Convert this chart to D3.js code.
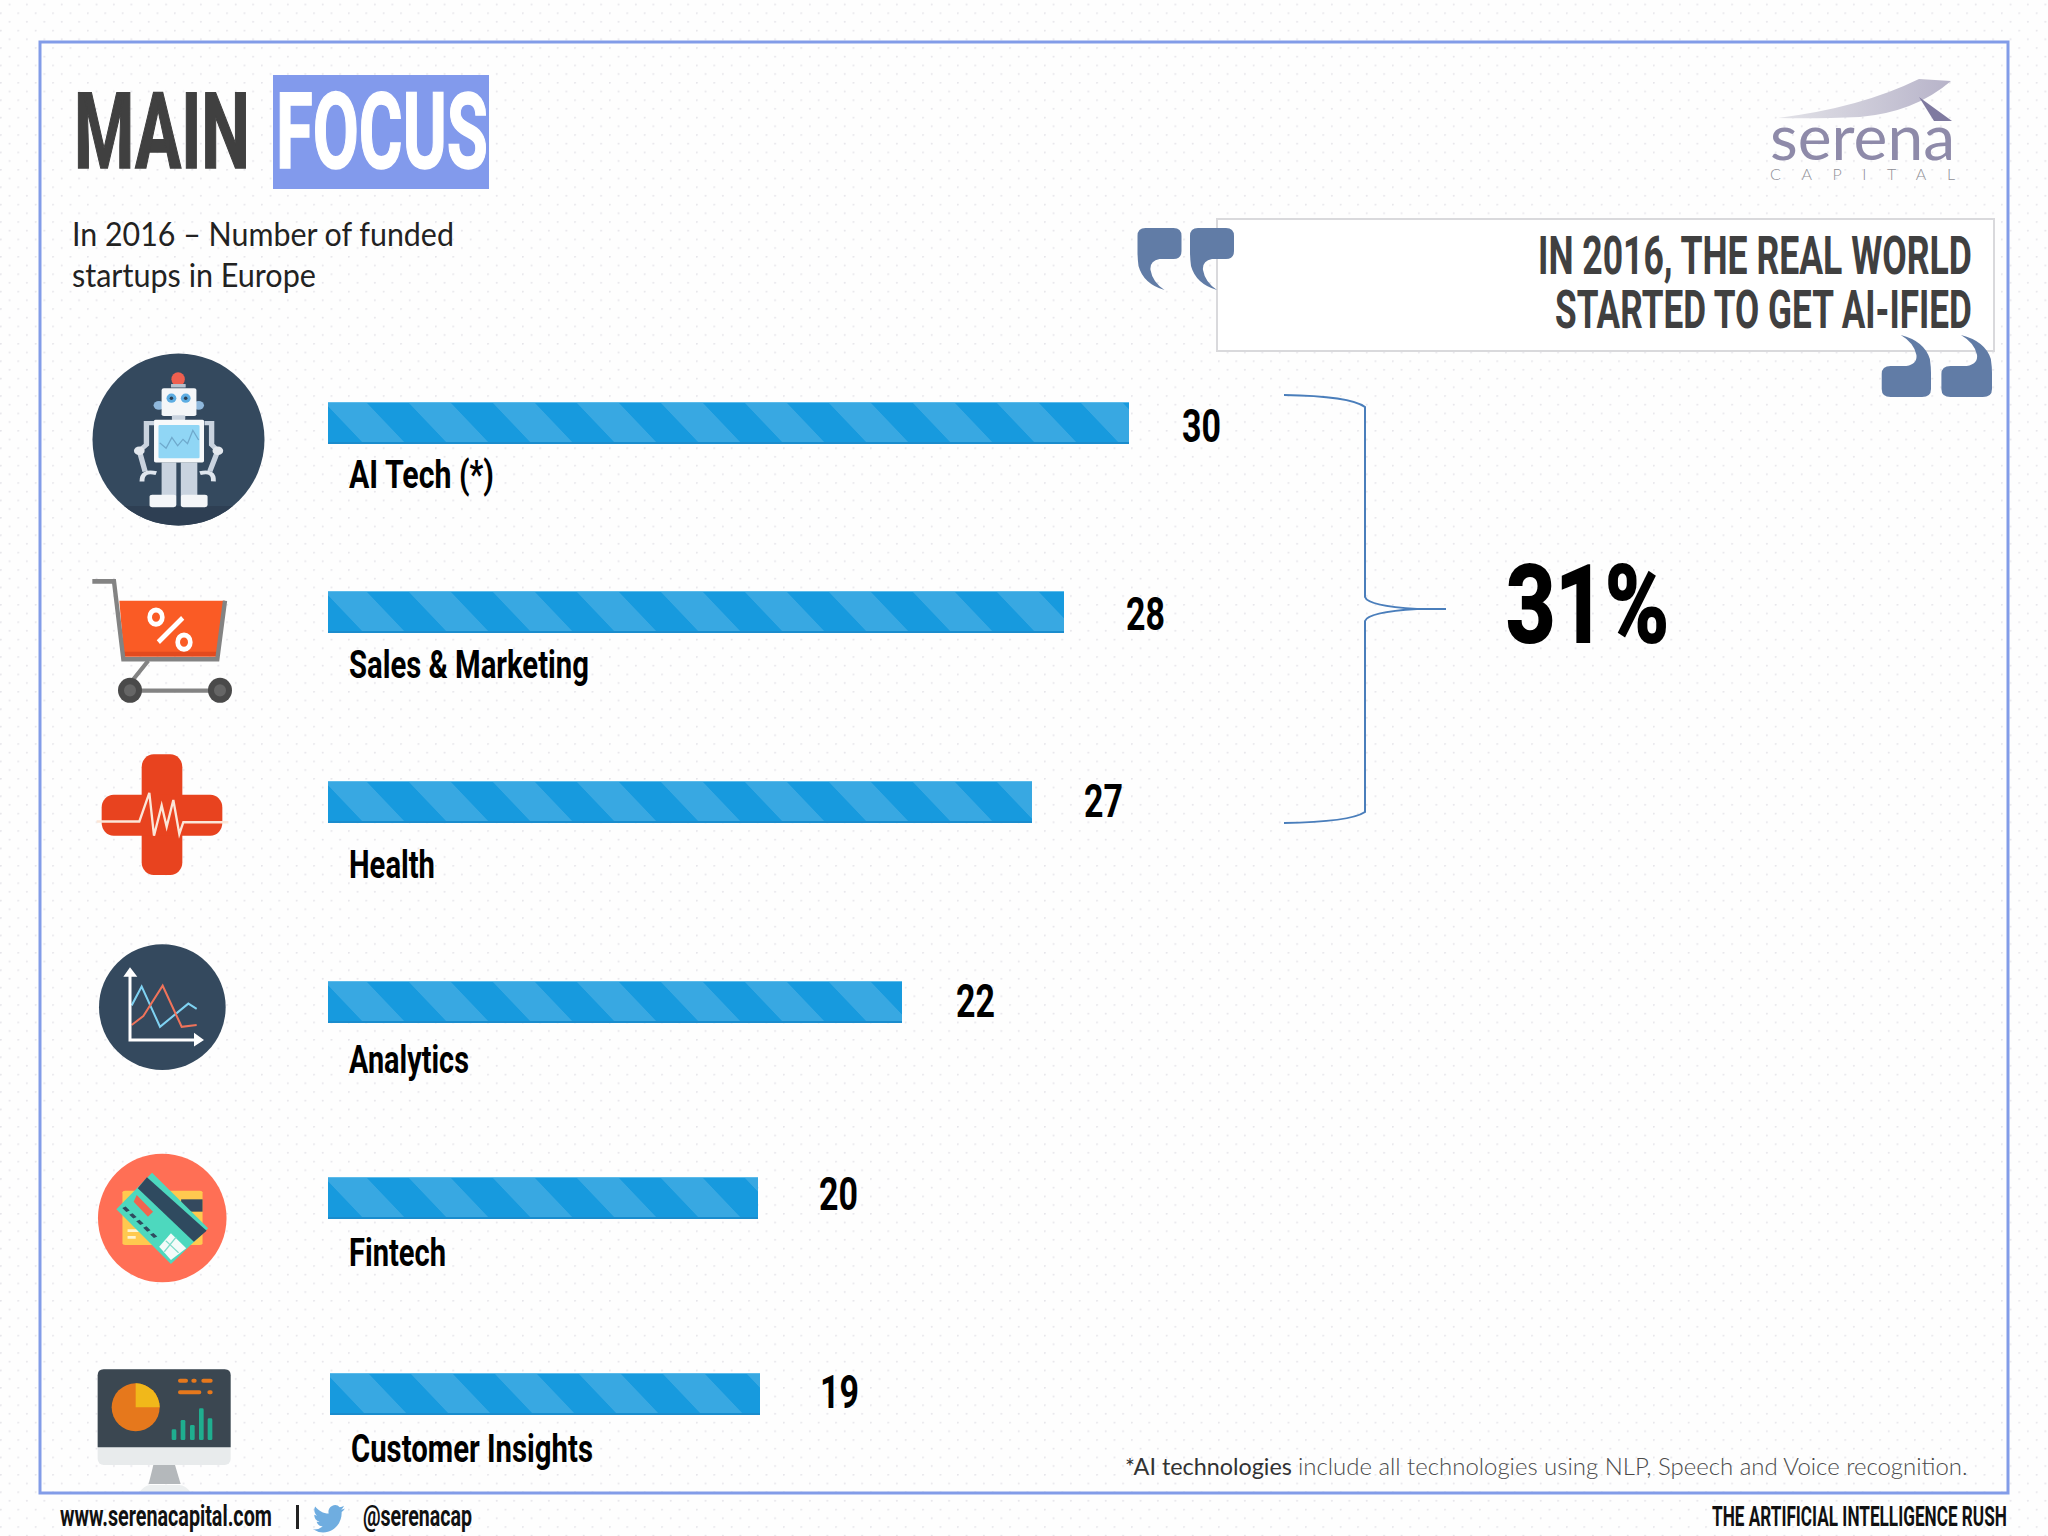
<!DOCTYPE html>
<html>
<head>
<meta charset="utf-8">
<script src="https://cdn.jsdelivr.net/npm/d3@7"></script>
<style>
  html, body { margin: 0; padding: 0; background: #fff; }
  svg { display: block; }
  .narrow { font-family: "Liberation Sans Narrow", "Roboto", sans-serif; font-weight: 700; }
  .lato { font-family: "Lato", sans-serif; }
  .light { font-weight: 300; }
</style>
</head>
<body>
<div class="main"></div>
<script>
// Chart data
const categories = ["AI Tech (*)", "Sales & Marketing", "Health", "Analytics", "Fintech", "Customer Insights"];
const startups = [30, 28, 27, 22, 20, 19];
const shareOfTotal = ["31%"];

const pageW = 2048, pageH = 1536;
const barH = 42;

const svg = d3.select(".main").append("svg")
    .attr("width", pageW)
    .attr("height", pageH)
    .attr("viewBox", "0 0 " + pageW + " " + pageH);

const defs = svg.append("defs");

// dotted paper
const dots = defs.append("pattern")
    .attr("id", "paper")
    .attr("patternUnits", "userSpaceOnUse")
    .attr("x", 0).attr("y", 12.4)
    .attr("width", 17.4).attr("height", 17.4);
dots.append("circle").attr("cx", 0.8).attr("cy", 0.8).attr("r", 1).attr("fill", "#e6e5ea");
dots.append("circle").attr("cx", 9.5).attr("cy", 9.5).attr("r", 1).attr("fill", "#e6e5ea");

// bar stripes, the tile is sheared so that it lines up with each bar's own origin
const stripes = defs.append("pattern")
    .attr("id", "stripes")
    .attr("patternUnits", "userSpaceOnUse")
    .attr("width", 84).attr("height", barH)
    .attr("patternTransform", "skewX(43.6)");
stripes.append("rect").attr("width", 84).attr("height", barH).attr("fill", "#38a8e2");
stripes.append("rect").attr("x", 38).attr("width", 42).attr("height", barH).attr("fill", "#179ade");

const swoosh = defs.append("linearGradient").attr("id", "swoosh");
swoosh.append("stop").attr("offset", 0).attr("stop-color", "#e3e3e8");
swoosh.append("stop").attr("offset", 1).attr("stop-color", "#b7b3c9");

defs.append("clipPath").attr("id", "robotClip").append("circle")
    .attr("cx", 178.5).attr("cy", 439.5).attr("r", 86);

svg.append("rect").attr("width", pageW).attr("height", pageH).attr("fill", "#fefefe");
svg.append("rect").attr("width", pageW).attr("height", pageH).attr("fill", "url(#paper)");

// squeeze a text sideways to the width it has in the picture
function fit(node, x, y, w) {
    const natural = node.getComputedTextLength();
    d3.select(node).attr("transform", "translate(" + x + "," + y + ") scale(" + (w / natural) + ",1)");
}
function put(parent, str, x, y, size, width, fill, cls) {
    const t = parent.append("text")
        .attr("class", cls || "narrow")
        .attr("font-size", size)
        .attr("fill", fill)
        .text(str);
    fit(t.node(), x, y, width);
    return t;
}

// Title
svg.append("rect").attr("x", 273).attr("y", 75).attr("width", 216).attr("height", 114).attr("fill", "#829aec");
put(svg, "MAIN", 74, 168, 106, 176, "#404040").attr("stroke", "#404040").attr("stroke-width", 1.5);
put(svg, "FOCUS", 276, 168, 106, 212, "#ffffff").attr("stroke", "#ffffff").attr("stroke-width", 1.5);
put(svg, "In 2016 – Number of funded", 72, 246, 33, 382, "#222", "lato");
put(svg, "startups in Europe", 72, 287, 33, 244, "#222", "lato");

// Logo
svg.append("path")
    .attr("d", "M1777,118 Q1860,108 1919,79 L1951,81 Q1915,112 1860,117 Q1815,119 1777,118Z")
    .attr("fill", "url(#swoosh)");
svg.append("path").attr("d", "M1919,97 L1952,121 L1934,121Z").attr("fill", "#7f7aa0");
put(svg, "serena", 1770, 160, 62, 185, "#8e8aa9", "lato");
const capital = svg.append("text")
    .attr("class", "lato light")
    .attr("x", 1770).attr("y", 180)
    .attr("font-size", 16)
    .attr("fill", "#8f8f96")
    .text("CAPITAL");
capital.attr("letter-spacing", (185 - capital.node().getComputedTextLength()) / 6);

// Quote box
svg.append("rect").attr("x", 1217).attr("y", 219).attr("width", 777).attr("height", 132)
    .attr("fill", "#fff").attr("stroke", "#d9d9dc").attr("stroke-width", 2);

const quoteMark = "M8,0 H36 Q44,0 44,8 V23 Q44,31 36,31 H22 Q12,33 13,42 Q15,54 27,62 Q6,56 1,38 Q0,30 0,24 V8 Q0,0 8,0Z";
[[1137.5, 228, 0, 1], [1190, 228, 0, 1], [1931, 397, 180, 1.12], [1992, 397, 180, 1.15]].forEach(function(q) {
    svg.append("path").attr("d", quoteMark)
        .attr("transform", "translate(" + q[0] + "," + q[1] + ") rotate(" + q[2] + ") scale(" + q[3] + ",1)")
        .attr("fill", "#617ca6");
});
put(svg, "IN 2016, THE REAL WORLD", 1538, 274, 53, 434, "#404040");
put(svg, "STARTED TO GET AI-IFIED", 1555, 328, 53, 417, "#404040");

// Scales. The bars in the picture are not proportional, so x is piecewise.
const x = d3.scaleLinear()
    .domain([19, 20, 22, 27, 28, 30])
    .range([430, 430, 574, 704, 736, 801]);
const y = d3.scaleOrdinal().domain(categories).range([402, 591, 781, 981, 1177, 1373]);
const x0 = d3.scaleOrdinal().domain(categories).range([328, 328, 328, 328, 328, 330]);
const labelY = d3.scaleOrdinal().domain(categories).range([488, 678, 878, 1073, 1266, 1462]);
const labelW = d3.scaleOrdinal().domain(categories).range([145, 240, 86, 120, 97, 242]);
const valueX = d3.scaleOrdinal().domain(categories).range([1182, 1126, 1084, 956, 819, 820]);
const valueY = d3.scaleOrdinal().domain(categories).range([442, 630, 817, 1017, 1210, 1408]);

const rows = categories.map(function(c, i) { return { category: c, value: startups[i] }; });

const bars = svg.selectAll(".row").data(rows).enter().append("g")
    .attr("class", "row")
    .attr("transform", function(d) { return "translate(" + x0(d.category) + "," + y(d.category) + ")"; });

bars.append("rect")
    .attr("class", "bar")
    .attr("width", function(d) { return x(d.value); })
    .attr("height", barH)
    .attr("fill", "url(#stripes)");
bars.append("rect")
    .attr("y", barH - 2)
    .attr("width", function(d) { return x(d.value); })
    .attr("height", 2)
    .attr("fill", "#1a8ccd");
bars.append("rect")
    .attr("width", function(d) { return x(d.value); })
    .attr("height", 1)
    .attr("fill", "#5dbbea");

svg.selectAll(".cat").data(rows).enter().append("text")
    .attr("class", "cat narrow")
    .attr("font-size", 39)
    .attr("fill", "#000")
    .text(function(d) { return d.category; })
    .each(function(d) { fit(this, x0(d.category) + 21, labelY(d.category), labelW(d.category)); });

svg.selectAll(".val").data(rows).enter().append("text")
    .attr("class", "val narrow")
    .attr("font-size", 46)
    .attr("fill", "#000")
    .text(function(d) { return d.value; })
    .each(function(d) { fit(this, valueX(d.category), valueY(d.category), 39); });

// Brace over the top three
svg.append("path")
    .attr("d", "M1284,395 Q1350,396 1365,407 V597 Q1368,606 1417,609 H1446 H1417 Q1368,612 1365,621 V812 Q1350,822 1284,823")
    .attr("fill", "none").attr("stroke", "#4a7ebb").attr("stroke-width", 2);
put(svg, shareOfTotal[0], 1506, 642, 107, 163, "#000").attr("stroke", "#000").attr("stroke-width", 2);

// Icons. Each is drawn in the pixel grid it was measured on, then scaled down.
const robotBg = svg.append("g");
robotBg.append("circle").attr("cx", 178.5).attr("cy", 439.5).attr("r", 86).attr("fill", "#34495e");
robotBg.append("rect").attr("x", 90).attr("y", 506).attr("width", 180).attr("height", 25)
    .attr("fill", "#2e3f53").attr("clip-path", "url(#robotClip)");

const robot = svg.append("g").attr("transform", "scale(" + (1 / 2.24) + "," + (1 / 2.8) + ")");
function robotRect(x, y, w, h, fill, r) {
    robot.append("rect").attr("x", x).attr("y", y).attr("width", w).attr("height", h)
        .attr("rx", r || 3).attr("fill", fill);
}
robot.append("path")
    .attr("d", "M345,1185 H328 V1245 L312,1262 L325,1320 M458,1185 H474 V1245 L488,1262 L470,1320")
    .attr("fill", "none").attr("stroke", "#c9d3df").attr("stroke-width", 12);
robot.append("path")
    .attr("d", "M318,1348 Q318,1315 350,1325 M350,1325 M478,1348 Q480,1315 448,1325")
    .attr("fill", "none").attr("stroke", "#dfe6ee").attr("stroke-width", 11);
robot.append("circle").attr("cx", 312).attr("cy", 1262).attr("r", 12).attr("fill", "#e3e8ee");
robot.append("circle").attr("cx", 488).attr("cy", 1262).attr("r", 12).attr("fill", "#e3e8ee");
robotRect(362, 1295, 33, 95, "#c9d3df", 1);
robotRect(405, 1295, 37, 95, "#c9d3df", 1);
robotRect(335, 1385, 60, 35, "#f4f6f8", 6);
robotRect(405, 1385, 60, 35, "#f4f6f8", 6);
robot.append("ellipse").attr("cx", 399).attr("cy", 1062).attr("rx", 15).attr("ry", 20).attr("fill", "#ef5f4f");
robotRect(383, 1075, 33, 10, "#b5c0cc", 1);
robot.append("circle").attr("cx", 356).attr("cy", 1135).attr("r", 12).attr("fill", "#8fb8dc");
robot.append("circle").attr("cx", 445).attr("cy", 1135).attr("r", 12).attr("fill", "#8fb8dc");
robotRect(362, 1087, 78, 78, "#f4f6f8", 5);
robot.append("ellipse").attr("cx", 384).attr("cy", 1115).attr("rx", 11).attr("ry", 13).attr("fill", "#5dade2");
robot.append("ellipse").attr("cx", 416).attr("cy", 1115).attr("rx", 11).attr("ry", 13).attr("fill", "#5dade2");
robot.append("ellipse").attr("cx", 384).attr("cy", 1115).attr("rx", 4).attr("ry", 5).attr("fill", "#2c3e50");
robot.append("ellipse").attr("cx", 416).attr("cy", 1115).attr("rx", 4).attr("ry", 5).attr("fill", "#2c3e50");
robotRect(385, 1163, 30, 14, "#c9d3df", 0);
robotRect(345, 1175, 112, 120, "#f7f9fa", 4);
robotRect(355, 1190, 92, 93, "#90d6f5", 0);
robot.append("path")
    .attr("d", "M358,1240 L372,1255 L385,1225 L398,1248 L410,1230 L420,1242 L432,1205 L445,1232")
    .attr("fill", "none").attr("stroke", "#6fa9cc").attr("stroke-width", 3);

const cart = svg.append("g").attr("transform", "translate(60,550) scale(" + (1 / 3) + "," + (1 / 2.8) + ")");
cart.append("path").attr("d", "M178,142 H495 L470,298 H192Z").attr("fill", "#fa5b25");
cart.append("path").attr("d", "M190,285 H473 L470,298 H192Z").attr("fill", "#e34a1e");
cart.append("path").attr("d", "M97,88 H162 L190,306 H472 L495,142")
    .attr("fill", "none").attr("stroke", "#838383").attr("stroke-width", 13);
cart.append("path").attr("d", "M265,310 L215,368 M210,394 H480")
    .attr("fill", "none").attr("stroke", "#838383").attr("stroke-width", 12);
[210, 480].forEach(function(cx) {
    cart.append("ellipse").attr("cx", cx).attr("cy", 393).attr("rx", 36).attr("ry", 35).attr("fill", "#4a4a4a");
    cart.append("ellipse").attr("cx", cx).attr("cy", 393).attr("rx", 18).attr("ry", 17).attr("fill", "#666");
});
cart.append("ellipse").attr("cx", 288).attr("cy", 188).attr("rx", 19).attr("ry", 20)
    .attr("fill", "none").attr("stroke", "#fff").attr("stroke-width", 14);
cart.append("ellipse").attr("cx", 372).attr("cy", 258).attr("rx", 19).attr("ry", 20)
    .attr("fill", "none").attr("stroke", "#fff").attr("stroke-width", 14);
cart.append("path").attr("d", "M368,190 L295,258").attr("stroke", "#fff").attr("stroke-width", 14);

const cross = svg.append("g").attr("transform", "translate(60,550) scale(" + (1 / 3) + "," + (1 / 2.8) + ")");
cross.append("rect").attr("x", 245).attr("y", 572).attr("width", 122).attr("height", 338).attr("rx", 36).attr("fill", "#e8431f");
cross.append("rect").attr("x", 125).attr("y", 685).attr("width", 362).attr("height", 115).attr("rx", 36).attr("fill", "#e8431f");
cross.append("path")
    .attr("d", "M110,760 H238 L268,680 L282,800 L305,715 L320,775 L340,700 L358,795 L370,762 H505")
    .attr("fill", "none").attr("stroke", "#fbe6d8").attr("stroke-width", 7);

const analytics = svg.append("g").attr("transform", "translate(60,550) scale(" + (1 / 3) + "," + (1 / 2.8) + ")");
analytics.append("ellipse").attr("cx", 307).attr("cy", 1280).attr("rx", 190).attr("ry", 176).attr("fill", "#34495e");
analytics.append("path").attr("d", "M215,1275 L245,1222 L300,1335 L385,1270 L410,1285")
    .attr("fill", "none").attr("stroke", "#7fd2f2").attr("stroke-width", 6);
analytics.append("path").attr("d", "M215,1330 L250,1305 L308,1220 L365,1335 L410,1330")
    .attr("fill", "none").attr("stroke", "#f0735a").attr("stroke-width", 6);
analytics.append("path").attr("d", "M210,1185 V1372 H410")
    .attr("fill", "none").attr("stroke", "#fff").attr("stroke-width", 9);
analytics.append("path").attr("d", "M190,1195 L210,1168 L232,1195Z M402,1352 L432,1372 L402,1390Z").attr("fill", "#fff");

const card = svg.append("g").attr("transform", "translate(0,1120) scale(" + (1 / 1.96) + "," + (1 / 3) + ")");
card.append("ellipse").attr("cx", 318).attr("cy", 294).attr("rx", 126).attr("ry", 193).attr("fill", "#ff6f55");
card.append("rect").attr("x", 240).attr("y", 212).attr("width", 157).attr("height", 163).attr("rx", 5).attr("fill", "#ffc94f");
card.append("rect").attr("x", 355).attr("y", 238).attr("width", 42).attr("height", 37).attr("fill", "#34495e");
card.append("path").attr("d", "M250,332 H272 M250,352 H266").attr("stroke", "#fff3cf").attr("stroke-width", 8);
card.append("path").attr("d", "M298,158 L408,325 L335,432 L228,268Z").attr("fill", "#4dd8be");
card.append("path").attr("d", "M288,172 L405,332 L380,365 L270,205Z").attr("fill", "#2f4a5f");
card.append("path").attr("d", "M268,225 L300,275 L290,290 L262,245Z").attr("fill", "#f0654f");
card.append("path").attr("d", "M243,262 L305,352").attr("stroke", "#2f4a5f").attr("stroke-width", 8).attr("stroke-dasharray", "14,10");
card.append("path").attr("d", "M335,340 L365,385 L335,420 L312,380Z").attr("fill", "#f4fbf9");
card.append("path").attr("d", "M325,362 L350,398 M345,352 L322,395").attr("stroke", "#7fdcca").attr("stroke-width", 3);

const monitor = svg.append("g").attr("transform", "translate(90,1360) scale(" + (1 / 3) + ")");
monitor.append("path").attr("d", "M145,400 Q165,375 180,375 H268 Q285,375 305,400Z").attr("fill", "#eceff0");
monitor.append("path").attr("d", "M190,315 H255 L272,372 H176Z").attr("fill", "#b4b8bb");
monitor.append("rect").attr("x", 23).attr("y", 28).attr("width", 399).attr("height", 287).attr("rx", 18).attr("fill", "#e8ebec");
monitor.append("path").attr("d", "M23,262 V46 Q23,28 41,28 H404 Q422,28 422,46 V262Z").attr("fill", "#3b4751");
monitor.append("circle").attr("cx", 137).attr("cy", 142).attr("r", 72).attr("fill", "#e6781c");
monitor.append("path").attr("d", "M137,70 A72,72 0 0 1 209,142 H137Z").attr("fill", "#f1b81a");
[[245, 208], [272, 180], [300, 195], [327, 145], [353, 175]].forEach(function(b) {
    monitor.append("rect").attr("x", b[0]).attr("y", b[1]).attr("width", 14).attr("height", 240 - b[1])
        .attr("rx", 4).attr("fill", "#1fae8f");
});
monitor.append("path").attr("d", "M270,62 H288 M310,62 H314 M340,62 H362 M270,97 H328 M358,97 H362")
    .attr("stroke", "#e6781c").attr("stroke-width", 12).attr("stroke-linecap", "round");

// Frame
svg.append("rect").attr("x", 40).attr("y", 42).attr("width", 1968).attr("height", 1451)
    .attr("fill", "none").attr("stroke", "#829ce8").attr("stroke-width", 3);

// Footnote and footer
put(svg, "*AI technologies", 1125, 1475, 24, 167, "#333", "lato");
put(svg, "include all technologies using NLP, Speech and Voice recognition.", 1298, 1475, 24, 670, "#4a4a4a", "lato light");
put(svg, "www.serenacapital.com", 60, 1526, 30, 212, "#111");
svg.append("rect").attr("x", 296).attr("y", 1505).attr("width", 3).attr("height", 24).attr("fill", "#222");
svg.append("path")
    .attr("d", "M23.953 4.57a10 10 0 01-2.825.775 4.958 4.958 0 002.163-2.723c-.951.555-2.005.959-3.127 1.184a4.92 4.92 0 00-8.384 4.482C7.69 8.095 4.067 6.13 1.64 3.162a4.822 4.822 0 00-.666 2.475c0 1.71.87 3.213 2.188 4.096a4.904 4.904 0 01-2.228-.616v.06a4.923 4.923 0 003.946 4.827 4.996 4.996 0 01-2.212.085 4.936 4.936 0 004.604 3.417 9.867 9.867 0 01-6.102 2.105c-.39 0-.779-.023-1.17-.067a13.995 13.995 0 007.557 2.209c9.053 0 13.998-7.496 13.998-13.985 0-.21 0-.42-.015-.63A9.935 9.935 0 0024 4.59z")
    .attr("transform", "translate(313,1502) scale(1.33,1.4)")
    .attr("fill", "#6fade0");
put(svg, "@serenacap", 363, 1526, 30, 109, "#111");
put(svg, "THE ARTIFICIAL INTELLIGENCE RUSH", 1712, 1526, 28, 295, "#111");
</script>
</body>
</html>
